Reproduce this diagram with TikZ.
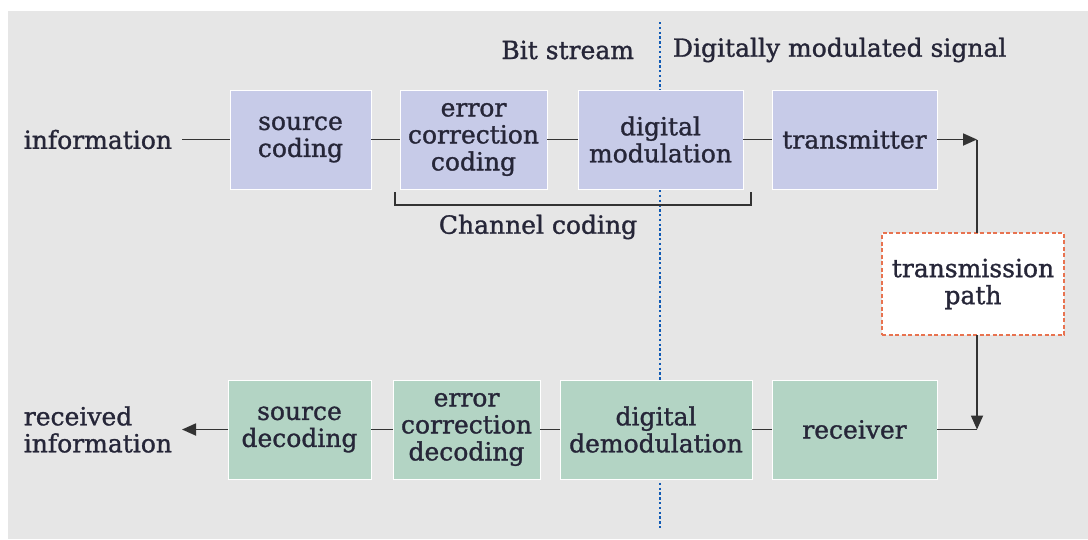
\documentclass[tikz,border=0pt]{standalone}
\usepackage{fontspec}
\setmainfont{DejaVu Serif}[FakeBold=1.2]
\usetikzlibrary{positioning,arrows.meta}
\definecolor{bgfill}{RGB}{230,230,230}
\definecolor{txfill}{RGB}{199,203,232}
\definecolor{rxfill}{RGB}{179,212,196}
\definecolor{pathline}{RGB}{232,115,80}
\definecolor{divline}{RGB}{16,90,180}
\definecolor{inkcol}{RGB}{38,38,56}

\begin{document}
\begin{tikzpicture}[x=1pt, y=-1pt,
  font=\fontsize{25}{27}\selectfont, text=inkcol,
  box/.style={draw=white, line width=1pt, minimum height=99pt, inner sep=2pt, outer sep=0pt, align=center},
  txbox/.style={box, fill=txfill},
  rxbox/.style={box, fill=rxfill},
  pathbox/.style={draw=pathline, fill=white, line width=1.3pt, dash pattern=on 4pt off 2.5pt, minimum width=182pt, minimum height=102pt, align=center, outer sep=0pt},
  lbl/.style={inner xsep=10pt, inner ysep=2pt, outer sep=0pt},
  wire/.style={line width=1.8pt, black!80},
  arr/.style={wire, -{Triangle[length=14pt,width=12pt]}},
  divider/.style={divline, line width=2.6pt, dash pattern=on 2.4pt off 2.4pt}]

\useasboundingbox (0,0) rectangle (1088,539);
\fill[white] (0,0) rectangle (1088,539);
\fill[bgfill] (8,11) rectangle (1088,539);

% boundary: bit stream | modulated signal
\coordinate (divtop) at (660,22);
\coordinate (divbot) at (660,530);
\draw[divider] (divtop) -- (divbot);
\node[lbl, anchor=east] (bits) at (644,50) {Bit stream};
\node[lbl, anchor=west] (dms) at (663,50) {Digitally modulated signal};

% sending chain
\node[txbox, minimum width=141pt] (src) at (300.5,139.5) {source\\coding};
\node[txbox, minimum width=147pt, right=29pt of src] (ecc) {error\\correction\\coding};
\node[txbox, minimum width=165pt, right=31pt of ecc] (mod) {digital\\modulation};
\node[txbox, minimum width=165pt, right=29pt of mod] (tx) {transmitter};
\node[lbl, left=48pt of src] (info) {information};

% receiving chain
\node[rxbox, minimum width=165pt] (rx) at (854.5,429.5) {receiver};
\node[rxbox, minimum width=192pt, left=20pt of rx] (demod) {digital\\demodulation};
\node[rxbox, minimum width=147pt, left=20pt of demod] (ecdec) {error\\correction\\decoding};
\node[rxbox, minimum width=143pt, left=22pt of ecdec] (sdec) {source\\decoding};
\node[lbl, align=left, left=46pt of sdec] (rinfo) {received\\information};

% channel in between
\node[pathbox] (tpath) at (973,284) {transmission\\path};
\coordinate[right=40pt of tx] (tcorner);
\coordinate (rcorner) at (tcorner |- rx.east);

\draw[wire] (info) -- (src); \draw[wire] (src) -- (ecc); \draw[wire] (ecc) -- (mod); \draw[wire] (mod) -- (tx);
\draw[arr] (tx) -- (tcorner);
\draw[wire] (tcorner) -- (tcorner |- tpath.north);
\draw[arr] (tcorner |- tpath.south) -- (rcorner);
\draw[wire] (rx) -- (rcorner);
\draw[wire] (rx) -- (demod); \draw[wire] (demod) -- (ecdec); \draw[wire] (ecdec) -- (sdec);
\draw[arr] (sdec) -- (rinfo);

% bracket under the channel coding blocks
\draw[wire, line width=1.4pt] ([xshift=-5pt,yshift=-3pt]ecc.south west) -- ++(0,-13pt) -| ([xshift=8pt,yshift=-3pt]mod.south east);
\node (chc) at (538,227) {Channel coding};
\end{tikzpicture}
\end{document}
